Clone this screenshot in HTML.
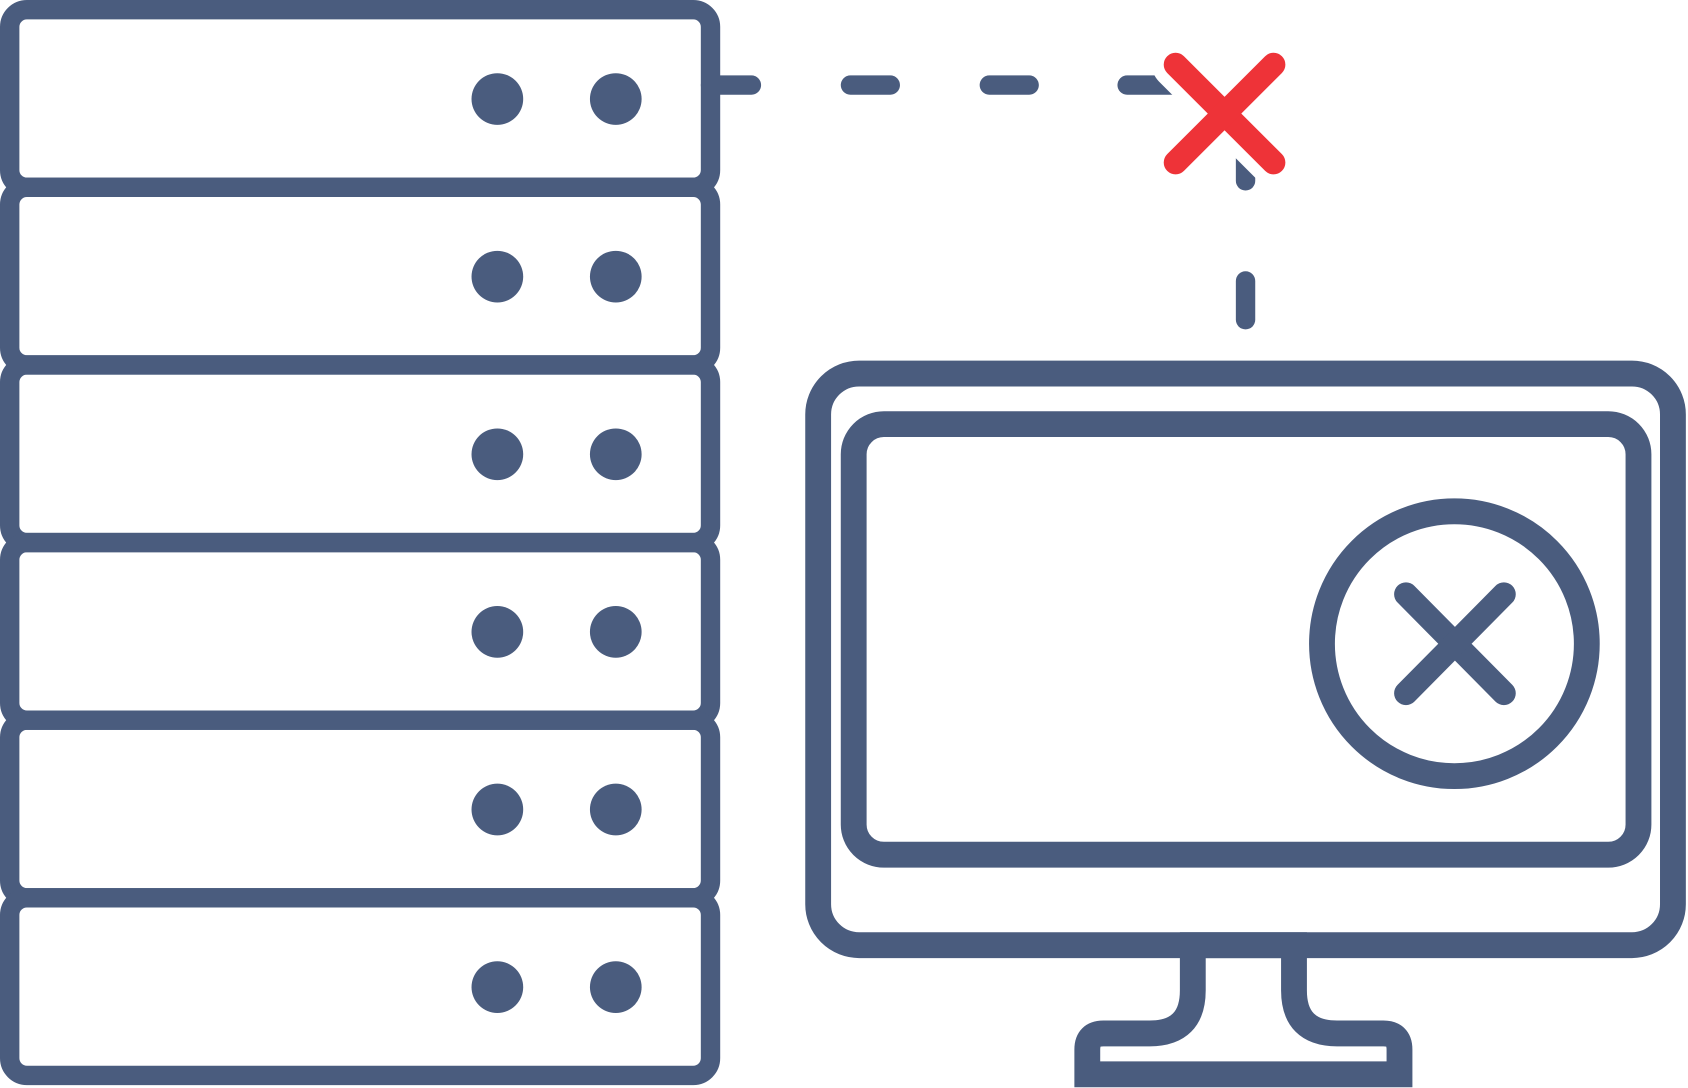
<!DOCTYPE html>
<html><head><style>html,body{margin:0;padding:0;background:#fff}svg{display:block}</style></head>
<body>
<svg width="1688" height="1088" viewBox="0 0 1568 1010.7" preserveAspectRatio="none" xmlns="http://www.w3.org/2000/svg">
<g fill="none" stroke="#4a5c7e" stroke-width="18">
<rect x="9" y="9" width="651" height="165" rx="16"/>
<rect x="9" y="174" width="651" height="165" rx="16"/>
<rect x="9" y="339" width="651" height="165" rx="16"/>
<rect x="9" y="504" width="651" height="165" rx="16"/>
<rect x="9" y="669" width="651" height="165" rx="16"/>
<rect x="9" y="834" width="651" height="165" rx="16"/>
</g>
<g fill="#4a5c7e">
<circle cx="462" cy="92" r="24"/><circle cx="572" cy="92" r="24"/>
<circle cx="462" cy="257" r="24"/><circle cx="572" cy="257" r="24"/>
<circle cx="462" cy="422" r="24"/><circle cx="572" cy="422" r="24"/>
<circle cx="462" cy="587" r="24"/><circle cx="572" cy="587" r="24"/>
<circle cx="462" cy="752" r="24"/><circle cx="572" cy="752" r="24"/>
<circle cx="462" cy="917" r="24"/><circle cx="572" cy="917" r="24"/>
</g>
<g stroke="#4a5c7e" stroke-width="18" stroke-linecap="round" fill="none">
<line x1="660" y1="79" x2="698" y2="79"/>
<line x1="790" y1="79" x2="827" y2="79"/>
<line x1="919" y1="79" x2="956" y2="79"/>
<line x1="1047" y1="79" x2="1090" y2="79"/>
<line x1="1157" y1="140" x2="1157" y2="168"/>
<line x1="1157" y1="261" x2="1157" y2="297"/>
</g>
<g stroke="#fff" stroke-width="44" stroke-linecap="round">
<line x1="1092" y1="60" x2="1183" y2="151"/>
<line x1="1183" y1="60" x2="1092" y2="151"/>
</g>
<g stroke="#ee3338" stroke-width="22" stroke-linecap="round">
<line x1="1092" y1="60" x2="1183" y2="151"/>
<line x1="1183" y1="60" x2="1092" y2="151"/>
</g>
<g fill="none" stroke="#4a5c7e" stroke-width="24">
<rect x="760" y="347" width="794" height="531" rx="38"/>
<rect x="793" y="394" width="729" height="400" rx="28"/>
<circle cx="1351" cy="598" r="123"/>
<path d="M1108 878 V920 Q1108 960 1068 960 H1025 Q1010 960 1010 975 V998 H1300 V975 Q1300 960 1285 960 H1242 Q1202 960 1202 920 V878 Z"/>
</g>
<g stroke="#4a5c7e" stroke-width="22" stroke-linecap="round">
<line x1="1306" y1="552" x2="1397" y2="644"/>
<line x1="1397" y1="552" x2="1306" y2="644"/>
</g>
</svg>
</body></html>
